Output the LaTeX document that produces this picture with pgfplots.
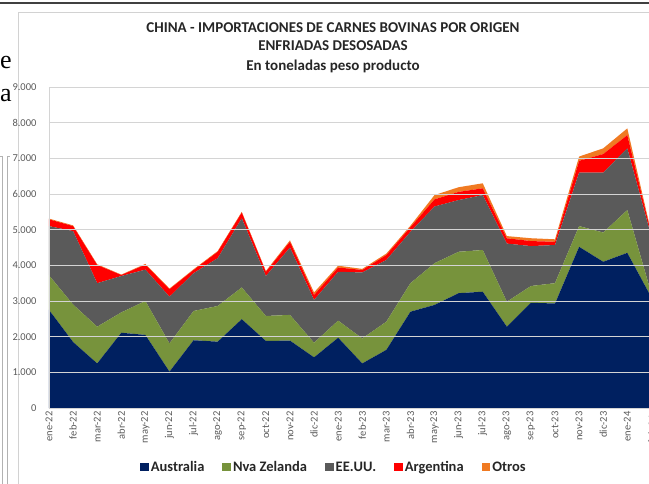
\documentclass[border=0pt]{standalone}
\usepackage{fontspec}
\setmainfont{Carlito}
\newfontfamily\seriffont{Liberation Serif}
\usepackage{pgfplots}
\pgfplotsset{compat=1.18}
\usepackage{pgfplotstable}

\definecolor{cAus}{HTML}{002060}
\definecolor{cNZ}{HTML}{77933C}
\definecolor{cUS}{HTML}{5A5A5A}
\definecolor{cArg}{HTML}{FF0000}
\definecolor{cOtr}{HTML}{F07A22}
\definecolor{cTick}{HTML}{595959}
\definecolor{cGrid}{HTML}{D4D4D4}

\pgfplotstableread{
i  aus  nz   us   arg otr
0  2750 970  1380 190 20
1  1850 1050 2060 140 20
2  1250 1030 1220 510 20
3  2110 570  1020 30  10
4  2050 950  880  140 20
5  1020 790  1310 210 20
6  1900 820  1060 90  20
7  1860 1000 1340 180 20
8  2490 890  1940 160 20
9  1880 700  1120 120 20
10 1890 720  1890 160 40
11 1420 410  1200 140 70
12 1970 480  1370 120 50
13 1250 700  1850 70  30
14 1630 790  1730 140 40
15 2700 800  1440 130 40
16 2890 1170 1590 200 120
17 3220 1160 1450 230 130
18 3260 1170 1540 190 140
19 2280 700  1630 150 60
20 2950 470  1120 140 80
21 2930 570  1070 90  70
22 4520 580  1500 330 120
23 4100 820  1680 520 160
24 4350 1200 1730 370 190
25 3100 100  1600 70  30
}\data

\begin{document}
\begin{tikzpicture}[x=1pt,y=1pt]
\path[use as bounding box] (0,0) rectangle (649,483);
% surrounding screenshot frame
\draw[line width=1.6pt, black!75] (-5,480) -- (660,480);
\draw[gray!35, line width=0.8pt] (18,-5) -- (18,471) -- (660,471);
\draw[gray!60, line width=0.8pt] (2.5,-5) -- (2.5,327) -- (-5,327);
\draw[gray!60, line width=0.8pt] (7.5,-5) -- (7.5,327);
\draw[gray!60, line width=0.8pt] (7.5,327) -- (10,327);
\node[font=\seriffont\fontsize{26}{26}\selectfont, inner sep=0pt] at (6,420) {e};
\node[font=\seriffont\fontsize{26}{26}\selectfont, inner sep=0pt] at (6,387) {a};
% titles
\node[font=\bfseries\fontsize{15}{17}\selectfont, text=black!85] at (333,455) {CHINA - IMPORTACIONES DE CARNES BOVINAS POR ORIGEN};
\node[font=\bfseries\fontsize{15}{17}\selectfont, text=black!85] at (333,437) {ENFRIADAS DESOSADAS};
\node[font=\bfseries\fontsize{15}{17}\selectfont, text=black!85] at (333,417) {En toneladas peso producto};
\begin{axis}[
  at={(49pt,75pt)}, anchor=south west,
  scale only axis, width=600pt, height=321pt,
  xmin=0, xmax=24.9, ymin=0, ymax=9000,
  stack plots=y, area style,
  axis x line*=bottom, axis y line*=left,
  axis line style={cGrid, line width=0.8pt},
  ymajorgrids, grid style={cGrid, line width=1pt},
  major tick length=0pt,
  ytick={0,1000,...,9000},
  xtick={0,...,24},
  xticklabels={ene-22,feb-22,mar-22,abr-22,may-22,jun-22,jul-22,ago-22,sep-22,oct-22,nov-22,dic-22,ene-23,feb-23,mar-23,abr-23,may-23,jun-23,jul-23,ago-23,sep-23,oct-23,nov-23,dic-23,ene-24},
  xticklabel style={rotate=90, anchor=east, font=\fontsize{10.5}{11}\selectfont, text=cTick},
  yticklabel style={font=\fontsize{10.5}{11}\selectfont, text=cTick, xshift=-9pt},
  /pgf/number format/.cd, 1000 sep={.}, assume math mode=true,
  /pgfplots/.cd,
  scaled y ticks=false,
  legend columns=-1,
  legend style={at={(0.475,-0.184)}, anchor=center, draw=none, fill=none,
    font=\bfseries\fontsize{14.5}{16}\selectfont, text=black!85,
    /tikz/every even column/.append style={column sep=16pt}},
  legend image code/.code={\fill[#1] (0pt,-4.3pt) rectangle (8.6pt,4.3pt);},
]
\addplot[fill=cAus, draw=none] table[x=i, y=aus]{\data} \closedcycle;
\addlegendentry{Australia}
\addplot[fill=cNZ, draw=none] table[x=i, y=nz]{\data} \closedcycle;
\addlegendentry{Nva Zelanda}
\addplot[fill=cUS, draw=none] table[x=i, y=us]{\data} \closedcycle;
\addlegendentry{EE.UU.}
\addplot[fill=cArg, draw=none] table[x=i, y=arg]{\data} \closedcycle;
\addlegendentry{Argentina}
\addplot[fill=cOtr, draw=none] table[x=i, y=otr]{\data} \closedcycle;
\addlegendentry{Otros}
\end{axis}
\node[rotate=90, anchor=east, font=\fontsize{10.5}{11}\selectfont, text=cTick] at (652,71) {feb-24};
\end{tikzpicture}
\end{document}
